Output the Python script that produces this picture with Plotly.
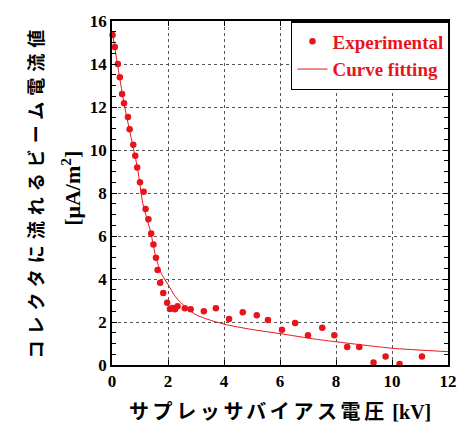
import plotly.graph_objects as go

exp_x = [0.02, 0.10, 0.21, 0.28, 0.36, 0.43, 0.57, 0.63, 0.76, 0.83, 0.90, 1.00, 1.13, 1.20,
         1.30, 1.40, 1.48, 1.57, 1.63, 1.72, 1.83, 1.97, 2.07, 2.16, 2.25, 2.34, 2.60, 2.81,
         3.28, 3.71, 4.18, 4.67, 5.17, 5.57, 6.07, 6.54, 7.00, 7.51, 7.94, 8.40, 8.83, 9.34,
         9.77, 10.27, 11.07]
exp_y = [15.35, 14.79, 14.00, 13.38, 12.60, 12.17, 11.53, 10.96, 10.25, 9.73, 9.19, 8.50, 8.06, 7.26,
         6.78, 6.12, 5.61, 4.99, 4.42, 3.83, 3.35, 2.90, 2.60, 2.65, 2.59, 2.73, 2.64, 2.59,
         2.50, 2.64, 2.14, 2.45, 2.31, 2.09, 1.64, 1.95, 1.38, 1.73, 1.38, 0.84, 0.84, 0.12,
         0.40, 0.05, 0.40]

# Fitted curve
fit_x = [0.02, 0.44, 0.91, 1.10, 1.39, 1.56, 1.76, 2.00, 2.26, 2.61, 3.02, 3.43, 4.00, 5.00,
         6.00, 7.27, 8.00, 10.00, 12.00]
fit_y = [15.40, 12.10, 9.15, 7.52, 6.13, 5.04, 4.26, 3.75, 3.18, 2.71, 2.32, 2.12, 1.90, 1.65,
         1.46, 1.20, 1.08, 0.78, 0.62]

x_ticks = [0, 2, 4, 6, 8, 10, 12]
y_ticks = [0, 2, 4, 6, 8, 10, 12, 14, 16]

RED = "#e8141c"
SERIF = "Liberation Serif"
JP = "Noto Sans CJK JP"

# pixel helpers relative to the plot area (screen coords of plot area: x 112..455, y 21..365)
PX0, PX1, PY0, PY1 = 112, 455, 21, 365
def px(x):
    return (x - PX0) / (PX1 - PX0)
def py(y):
    return (PY1 - y) / (PY1 - PY0)

fig = go.Figure()
fig.add_trace(go.Scatter(x=exp_x, y=exp_y, mode="markers", name="Experimental",
                         marker=dict(color=RED, size=6.5), cliponaxis=False))
fig.add_trace(go.Scatter(x=fit_x, y=fit_y, mode="lines", name="Curve fitting",
                         line=dict(color=RED, width=1, shape="spline", smoothing=0.6)))

axis_common = dict(showline=True, linecolor="black", linewidth=1.5, mirror="allticks",
                   ticks="inside", ticklen=5, tickcolor="black",
                   showgrid=True, gridcolor="#555", griddash="dot", gridwidth=1,
                   zeroline=False,
                   tickfont=dict(family=SERIF, size=17, color="black", weight="bold"))

fig.update_xaxes(range=[0, 12], tickvals=x_ticks, **axis_common)
fig.update_yaxes(range=[0, 16], tickvals=y_ticks,
                 minor=dict(dtick=0.5, ticks="inside", ticklen=4, tickcolor="black", showgrid=False),
                 **axis_common)

# legend shadow
fig.add_shape(type="rect", xref="paper", yref="paper",
              x0=px(299), x1=px(456), y0=py(85), y1=py(25),
              fillcolor="black", line=dict(width=0), layer="above")

fig.update_layout(
    width=469, height=426,
    margin=dict(l=PX0, r=469 - PX1, t=PY0, b=426 - PY1),
    plot_bgcolor="white", paper_bgcolor="white",
    showlegend=True,
    legend=dict(x=px(457), y=py(21), xanchor="right", yanchor="top",
                bgcolor="white", bordercolor="black", borderwidth=1.5,
                font=dict(family=SERIF, size=19, color=RED, weight="bold"),
                itemwidth=30, tracegroupgap=0),
    annotations=[
        dict(text="<b><span style='letter-spacing:6px'>コレクタに流れるビーム電流値</span></b>",
             textangle=-90, showarrow=False,
             xref="paper", yref="paper", x=px(33), y=py(191),
             xanchor="center", yanchor="middle",
             font=dict(family=JP, size=18, color="black")),
        dict(text="<b>[μA/m<sup>2</sup>]</b>", textangle=-90, showarrow=False,
             xref="paper", yref="paper", x=px(70), y=py(188),
             xanchor="center", yanchor="middle",
             font=dict(family=SERIF, size=22, color="black")),
        dict(text="<b><span style='letter-spacing:3.6px'>サプレッサバイアス電圧</span> "
                  "<span style='font-family:Liberation Serif'>[kV]</span></b>",
             showarrow=False, xref="paper", yref="paper",
             x=px(283), y=py(410), xanchor="center", yanchor="middle",
             font=dict(family=JP, size=20, color="black")),
    ],
)

fig.write_html("out.html", config={"displayModeBar": False},
               post_script="document.body.style.margin='0';document.body.style.overflow='hidden';")
